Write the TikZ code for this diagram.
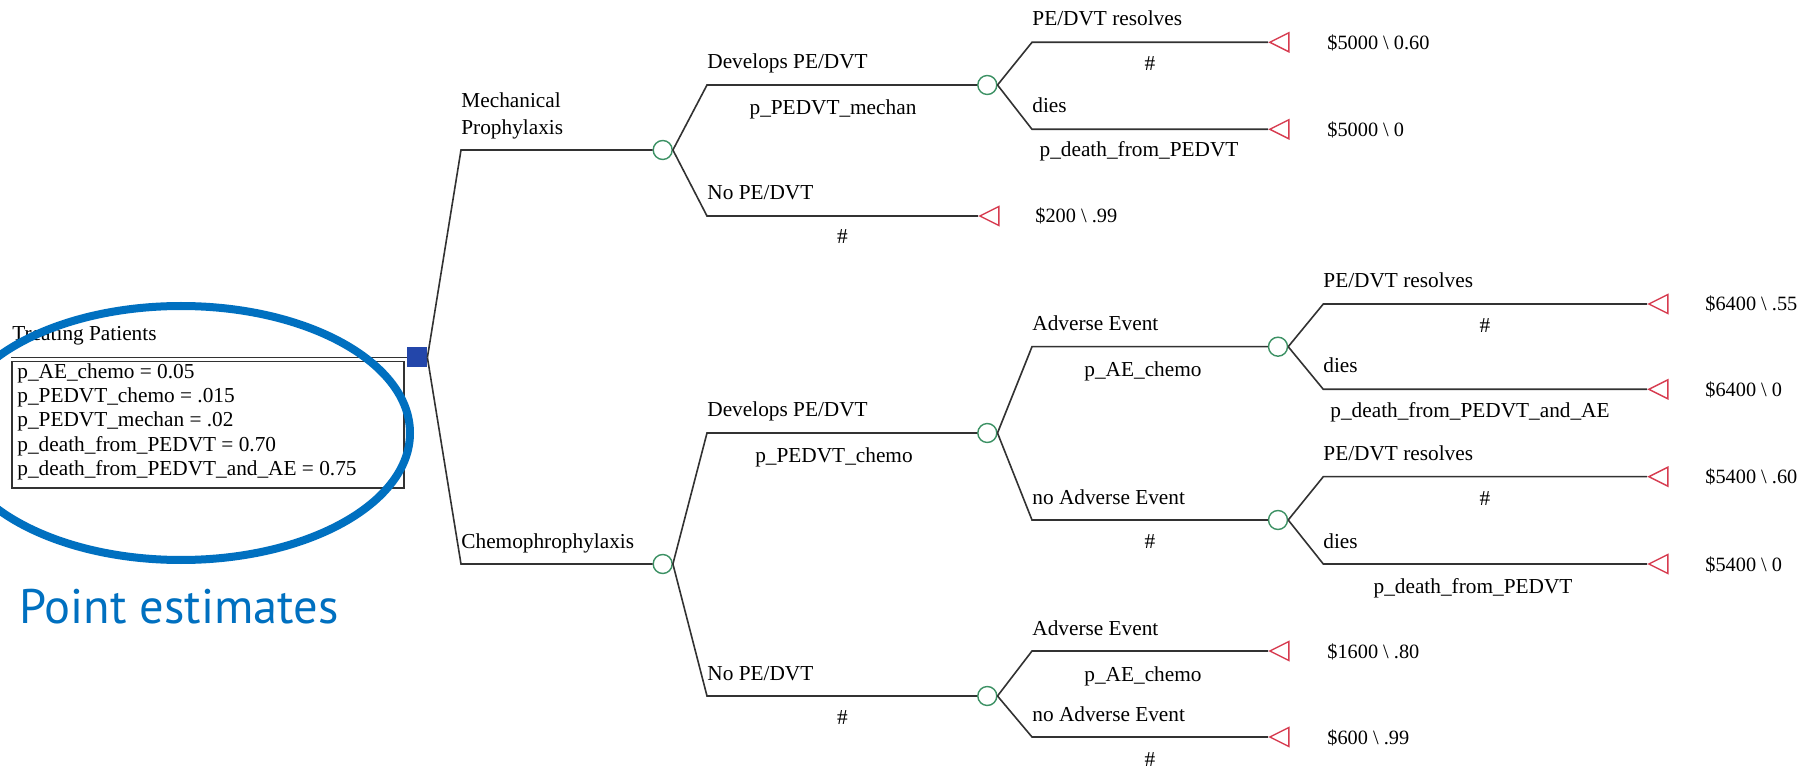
\documentclass[tikz,border=0pt]{standalone}
\usepackage{fontspec}
\setmainfont{Liberation Serif}
\newfontfamily\ptsansfam{PT Sans}
\usetikzlibrary{shapes.geometric}
\definecolor{linec}{RGB}{50,50,50}
\definecolor{greenc}{RGB}{60,145,100}
\definecolor{redc}{RGB}{215,60,80}
\definecolor{bluesq}{RGB}{35,70,170}
\definecolor{blueel}{RGB}{0,112,192}
\newcommand\labfont{\fontsize{10.65pt}{12pt}\selectfont}
\newcommand\valfont{\fontsize{10.15pt}{12pt}\selectfont}
\newcommand\pefont{\ptsansfam\fontsize{24.25pt}{28pt}\selectfont}
\tikzset{
  brline/.style={draw=linec, line width=0.8pt},
  chancenode/.style={circle, draw=greenc, line width=0.7pt, fill=white, minimum size=9.5pt, inner sep=0pt},
  termnode/.style={isosceles triangle, isosceles triangle stretches, shape border rotate=180, draw=redc, line width=0.7pt, minimum width=9.5pt, minimum height=9.5pt, inner sep=0pt, anchor=apex},
  decnode/.style={rectangle, fill=bluesq, minimum size=10pt, inner sep=0pt},
  toplab/.style={font=\labfont, inner sep=0pt, anchor=base west},
  botlab/.style={font=\labfont, inner sep=0pt, anchor=base},
  valtext/.style={font=\valfont, inner sep=0pt, anchor=base west},
}
\begin{document}
\begin{tikzpicture}[x=0.5pt, y=-0.5pt]
\useasboundingbox (0,0) rectangle (1812,770);
\clip (0,0) rectangle (1812,770);
\fill[white] (0,0) rectangle (1812,770);

% ---- root and parameter box
\node[decnode] (root) at (417,357.5) {};
\coordinate (stemL) at (11,357.5);
\draw[brline] (stemL) -- (root.west);
\node[toplab] (tp) at (12,340.7) {Treating Patients};
\node[draw=linec, line width=0.8pt, anchor=north west, minimum width=196pt, minimum height=63.3pt, inner sep=0pt] (params) at (11,360.7) {};
\node[toplab] (p1) at (17,378.5) {p\_AE\_chemo = 0.05};
\node[toplab] (p2) at (17,402.7) {p\_PEDVT\_chemo = .015};
\node[toplab] (p3) at (17,426.9) {p\_PEDVT\_mechan = .02};
\node[toplab] (p4) at (17,451.1) {p\_death\_from\_PEDVT = 0.70};
\node[toplab] (p5) at (17,475.3) {p\_death\_from\_PEDVT\_and\_AE = 0.75};

% ---- level 1
\coordinate (mC) at (461,150);
\coordinate (cC) at (461,564);
\node[chancenode] (mech) at (662.7,150) {};
\node[chancenode] (chem) at (662.7,564) {};
\draw[brline] (root.east) -- (mC) -- (mech.west);
\draw[brline] (root.east) -- (cC) -- (chem.west);
\node[toplab] (lm1) at (461,108) {Mechanical};
\node[toplab] (lm2) at (461,135) {Prophylaxis};
\node[toplab] (lc) at (461,548) {Chemophrophylaxis};

% ---- level 2
\coordinate (mDc) at (707,85);
\coordinate (mNc) at (707,216);
\coordinate (cDc) at (707,433);
\coordinate (cNc) at (707,696);
\node[chancenode] (md) at (987.3,85) {};
\node[termnode] (mn) at (978,216) {};
\node[chancenode] (cd) at (987.3,433) {};
\node[chancenode] (cn) at (987.3,696) {};
\draw[brline] (mech.east) -- (mDc) -- (md.west);
\draw[brline] (mech.east) -- (mNc) -- (mn.apex);
\draw[brline] (chem.east) -- (cDc) -- (cd.west);
\draw[brline] (chem.east) -- (cNc) -- (cn.west);
\node[toplab] (l21) at (707,69) {Develops PE/DVT};
\node[botlab] (l22) at (833,115) {p\_PEDVT\_mechan};
\node[toplab] (l23) at (707,200) {No PE/DVT};
\node[botlab] (l24) at (842.5,244) {\#};
\node[valtext] (v1) at (1035,223) {\$200 \textbackslash\ .99};
\node[toplab] (l25) at (707,417) {Develops PE/DVT};
\node[botlab] (l26) at (834,463) {p\_PEDVT\_chemo};
\node[toplab] (l27) at (707,680) {No PE/DVT};
\node[botlab] (l28) at (842.5,724) {\#};

% ---- level 3, mechanical
\coordinate (mdRc) at (1032,42.3);
\coordinate (mdDc) at (1032,129.3);
\node[termnode] (mdr) at (1268,42.3) {};
\node[termnode] (mdd) at (1268,129.3) {};
\draw[brline] (md.east) -- (mdRc) -- (mdr.apex);
\draw[brline] (md.east) -- (mdDc) -- (mdd.apex);
\node[toplab] (l31) at (1032,26) {PE/DVT resolves};
\node[botlab] (l32) at (1150,71) {\#};
\node[toplab] (l33) at (1032,112.5) {dies};
\node[botlab] (l34) at (1139,157) {p\_death\_from\_PEDVT};
\node[valtext] (v2) at (1327,49.3) {\$5000 \textbackslash\ 0.60};
\node[valtext] (v3) at (1327,136.3) {\$5000 \textbackslash\ 0};

% ---- level 3, chemo develops
\coordinate (cdAc) at (1032,346.7);
\coordinate (cdNc) at (1032,520);
\node[chancenode] (cda) at (1278,346.7) {};
\node[chancenode] (cdn) at (1278,520) {};
\draw[brline] (cd.east) -- (cdAc) -- (cda.west);
\draw[brline] (cd.east) -- (cdNc) -- (cdn.west);
\node[toplab] (l35) at (1032,331) {Adverse Event};
\node[botlab] (l36) at (1143,377) {p\_AE\_chemo};
\node[toplab] (l37) at (1032,504) {no Adverse Event};
\node[botlab] (l38) at (1150,548) {\#};

% ---- level 3, chemo no PE/DVT
\coordinate (cnAc) at (1032,651);
\coordinate (cnNc) at (1032,737);
\node[termnode] (cna) at (1268,651) {};
\node[termnode] (cnn) at (1268,737) {};
\draw[brline] (cn.east) -- (cnAc) -- (cna.apex);
\draw[brline] (cn.east) -- (cnNc) -- (cnn.apex);
\node[toplab] (l39) at (1032,635) {Adverse Event};
\node[botlab] (l40) at (1143,681) {p\_AE\_chemo};
\node[toplab] (l41) at (1032,721) {no Adverse Event};
\node[botlab] (l42) at (1150,766) {\#};
\node[valtext] (v4) at (1327,658) {\$1600 \textbackslash\ .80};
\node[valtext] (v5) at (1327,744) {\$600 \textbackslash\ .99};

% ---- level 4, adverse event
\coordinate (aRc) at (1323.3,304);
\coordinate (aDc) at (1323.3,389.3);
\node[termnode] (ar) at (1647,304) {};
\node[termnode] (ad) at (1647,389.3) {};
\draw[brline] (cda.east) -- (aRc) -- (ar.apex);
\draw[brline] (cda.east) -- (aDc) -- (ad.apex);
\node[toplab] (l51) at (1323,288) {PE/DVT resolves};
\node[botlab] (l52) at (1485,333) {\#};
\node[toplab] (l53) at (1323,373) {dies};
\node[botlab] (l54) at (1470,418) {p\_death\_from\_PEDVT\_and\_AE};
\node[valtext] (v6) at (1705,311) {\$6400 \textbackslash\ .55};
\node[valtext] (v7) at (1705,396.3) {\$6400 \textbackslash\ 0};

% ---- level 4, no adverse event
\coordinate (nRc) at (1323.3,476.7);
\coordinate (nDc) at (1323.3,564);
\node[termnode] (nr) at (1647,476.7) {};
\node[termnode] (nd) at (1647,564) {};
\draw[brline] (cdn.east) -- (nRc) -- (nr.apex);
\draw[brline] (cdn.east) -- (nDc) -- (nd.apex);
\node[toplab] (l55) at (1323,461) {PE/DVT resolves};
\node[botlab] (l56) at (1485,506) {\#};
\node[toplab] (l57) at (1323,548) {dies};
\node[botlab] (l58) at (1473,593) {p\_death\_from\_PEDVT};
\node[valtext] (v8) at (1705,483.7) {\$5400 \textbackslash\ .60};
\node[valtext] (v9) at (1705,571) {\$5400 \textbackslash\ 0};

% ---- highlight
\draw[blueel, line width=4pt] (181,433) ellipse [x radius=114.5pt, y radius=63.5pt];
\node[anchor=base west, font=\pefont, text=blueel, inner sep=0pt] (pe) at (19,623.3) {Point estimates};
\end{tikzpicture}
\end{document}
